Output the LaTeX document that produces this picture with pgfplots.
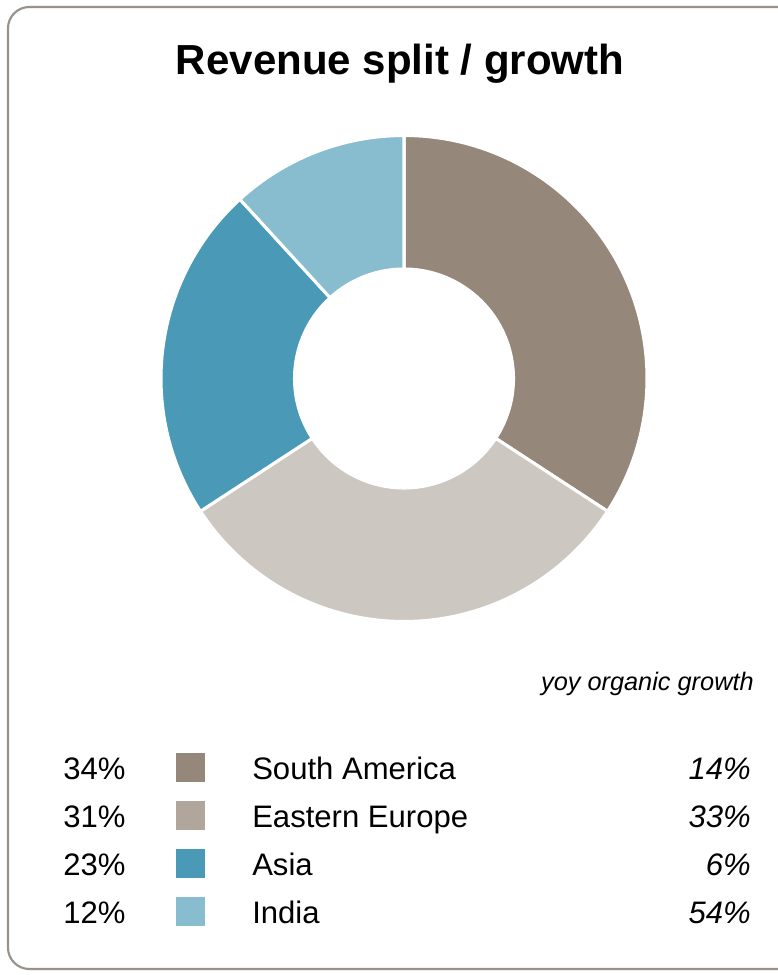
\documentclass[border=0pt]{standalone}
\usepackage{pgfplots}
\pgfplotsset{compat=1.18}
\usepackage{pgfplotstable}
\usepackage{fontspec}
\setmainfont{Liberation Sans}

\definecolor{csa}{HTML}{958779}
\definecolor{cee}{HTML}{CCC7C1}
\definecolor{ceeleg}{HTML}{B0A69C}
\definecolor{casia}{HTML}{4A9AB7}
\definecolor{cind}{HTML}{88BDCF}
\definecolor{cframe}{HTML}{9C9188}

% share = slice size; label = printed value
\pgfplotstableread[col sep=comma]{
region,share,label,growth,piecol,legcol
South America,34.2,34,14,csa,csa
Eastern Europe,31.6,31,33,cee,ceeleg
Asia,22.4,23,6,casia,casia
India,11.8,12,54,cind,cind
}\revdata

\begin{document}
\begin{tikzpicture}[x=0.75pt,y=0.75pt]
% px coordinates: X = x_px, Y = 975 - y_px
\useasboundingbox (0,0) rectangle (778,975);
\begin{scope}
\clip (0,0) rectangle (778,975);
\draw[cframe, line width=1.6pt, rounded corners=16pt] (8,6) rectangle (820,968);
\end{scope}

\node[anchor=base, inner sep=0pt, font=\bfseries\fontsize{31.5}{36}\selectfont] at (400,900) {Revenue split / growth};

\begin{axis}[
  at={(404,596.5)}, anchor=center,
  x=0.75pt, y=0.75pt,
  xmin=-250, xmax=250, ymin=-250, ymax=250,
  hide axis, clip=false, scale only axis,
]
\gdef\astart{90}
\pgfplotsforeachungrouped \i in {0,...,3}{%
  \pgfplotstablegetelem{\i}{share}\of\revdata
  \let\sh\pgfplotsretval
  \pgfplotstablegetelem{\i}{piecol}\of\revdata
  \let\pc\pgfplotsretval
  \pgfmathsetmacro\aend{\astart-3.6*\sh}%
  \edef\cmd{\noexpand\fill[\pc, draw=white, line width=2.3pt, line join=miter]
    (axis cs:{243*cos(\astart)},{243*sin(\astart)})
    arc[start angle=\astart, end angle=\aend, radius=182.25pt]
    -- (axis cs:{109.5*cos(\aend)},{109.5*sin(\aend)})
    arc[start angle=\aend, end angle=\astart, radius=82.125pt]
    -- cycle;}%
  \cmd
  \global\let\astart\aend
}
\end{axis}

\node[anchor=base east, inner sep=0pt, font=\itshape\fontsize{19}{22}\selectfont] at (754,284) {yoy organic growth};

\pgfplotsforeachungrouped \i in {0,...,3}{%
  \pgfplotstablegetelem{\i}{region}\of\revdata \let\rn\pgfplotsretval
  \pgfplotstablegetelem{\i}{label}\of\revdata \let\sh\pgfplotsretval
  \pgfplotstablegetelem{\i}{growth}\of\revdata \let\gr\pgfplotsretval
  \pgfplotstablegetelem{\i}{legcol}\of\revdata \let\lc\pgfplotsretval
  \pgfmathsetmacro\yb{975-780-48*\i}%
  \node[anchor=base west, inner sep=0pt, font=\fontsize{23.3}{27}\selectfont] at (63,\yb) {\sh\%};
  \fill[\lc] (176,\yb-2) rectangle (205,\yb+27);
  \node[anchor=base west, inner sep=0pt, font=\fontsize{23.3}{27}\selectfont] at (252,\yb) {\rn};
  \node[anchor=base east, inner sep=0pt, font=\itshape\fontsize{23.3}{27}\selectfont] at (751,\yb) {\gr\%};
}
\end{tikzpicture}
\end{document}
